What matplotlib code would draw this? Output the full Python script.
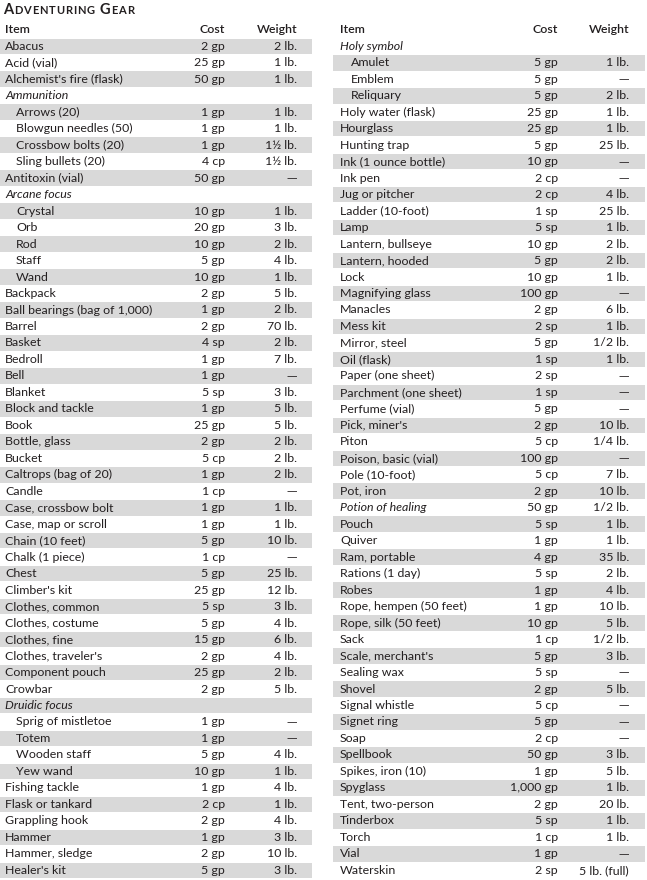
import matplotlib

matplotlib.use("Agg")
import matplotlib.pyplot as plt

# left half of the table
left_items = [
    "Abacus", "Acid (vial)", "Alchemist's fire (flask)", "Ammunition",
    "Arrows (20)", "Blowgun needles (50)", "Crossbow bolts (20)", "Sling bullets (20)",
    "Antitoxin (vial)", "Arcane focus", "Crystal", "Orb", "Rod", "Staff", "Wand",
    "Backpack", "Ball bearings (bag of 1,000)", "Barrel", "Basket", "Bedroll", "Bell",
    "Blanket", "Block and tackle", "Book", "Bottle, glass", "Bucket",
    "Caltrops (bag of 20)", "Candle", "Case, crossbow bolt", "Case, map or scroll",
    "Chain (10 feet)", "Chalk (1 piece)", "Chest", "Climber's kit", "Clothes, common",
    "Clothes, costume", "Clothes, fine", "Clothes, traveler's", "Component pouch",
    "Crowbar", "Druidic focus", "Sprig of mistletoe", "Totem", "Wooden staff",
    "Yew wand", "Fishing tackle", "Flask or tankard", "Grappling hook", "Hammer",
    "Hammer, sledge", "Healer's kit",
]
left_costs = [
    "2 gp", "25 gp", "50 gp", "", "1 gp", "1 gp", "1 gp", "4 cp", "50 gp", "",
    "10 gp", "20 gp", "10 gp", "5 gp", "10 gp", "2 gp", "1 gp", "2 gp", "4 sp", "1 gp",
    "1 gp", "5 sp", "1 gp", "25 gp", "2 gp", "5 cp", "1 gp", "1 cp", "1 gp", "1 gp",
    "5 gp", "1 cp", "5 gp", "25 gp", "5 sp", "5 gp", "15 gp", "2 gp", "25 gp", "2 gp",
    "", "1 gp", "1 gp", "5 gp", "10 gp", "1 gp", "2 cp", "2 gp", "1 gp", "2 gp", "5 gp",
]
left_weights = [
    "2 lb.", "1 lb.", "1 lb.", "", "1 lb.", "1 lb.", "1½ lb.", "1½ lb.", "—", "",
    "1 lb.", "3 lb.", "2 lb.", "4 lb.", "1 lb.", "5 lb.", "2 lb.", "70 lb.", "2 lb.",
    "7 lb.", "—", "3 lb.", "5 lb.", "5 lb.", "2 lb.", "2 lb.", "2 lb.", "—", "1 lb.",
    "1 lb.", "10 lb.", "—", "25 lb.", "12 lb.", "3 lb.", "4 lb.", "6 lb.", "4 lb.",
    "2 lb.", "5 lb.", "", "—", "—", "4 lb.", "1 lb.", "4 lb.", "1 lb.", "4 lb.",
    "3 lb.", "10 lb.", "3 lb.",
]

# right half of the table
right_items = [
    "Holy symbol", "Amulet", "Emblem", "Reliquary", "Holy water (flask)", "Hourglass",
    "Hunting trap", "Ink (1 ounce bottle)", "Ink pen", "Jug or pitcher",
    "Ladder (10-foot)", "Lamp", "Lantern, bullseye", "Lantern, hooded", "Lock",
    "Magnifying glass", "Manacles", "Mess kit", "Mirror, steel", "Oil (flask)",
    "Paper (one sheet)", "Parchment (one sheet)", "Perfume (vial)", "Pick, miner's",
    "Piton", "Poison, basic (vial)", "Pole (10-foot)", "Pot, iron", "Potion of healing",
    "Pouch", "Quiver", "Ram, portable", "Rations (1 day)", "Robes",
    "Rope, hempen (50 feet)", "Rope, silk (50 feet)", "Sack", "Scale, merchant's",
    "Sealing wax", "Shovel", "Signal whistle", "Signet ring", "Soap", "Spellbook",
    "Spikes, iron (10)", "Spyglass", "Tent, two-person", "Tinderbox", "Torch", "Vial",
    "Waterskin",
]
right_costs = [
    "", "5 gp", "5 gp", "5 gp", "25 gp", "25 gp", "5 gp", "10 gp", "2 cp", "2 cp",
    "1 sp", "5 sp", "10 gp", "5 gp", "10 gp", "100 gp", "2 gp", "2 sp", "5 gp", "1 sp",
    "2 sp", "1 sp", "5 gp", "2 gp", "5 cp", "100 gp", "5 cp", "2 gp", "50 gp", "5 sp",
    "1 gp", "4 gp", "5 sp", "1 gp", "1 gp", "10 gp", "1 cp", "5 gp", "5 sp", "2 gp",
    "5 cp", "5 gp", "2 cp", "50 gp", "1 gp", "1,000 gp", "2 gp", "5 sp", "1 cp", "1 gp",
    "2 sp",
]
right_weights = [
    "", "1 lb.", "—", "2 lb.", "1 lb.", "1 lb.", "25 lb.", "—", "—", "4 lb.",
    "25 lb.", "1 lb.", "2 lb.", "2 lb.", "1 lb.", "—", "6 lb.", "1 lb.", "1/2 lb.",
    "1 lb.", "—", "—", "—", "10 lb.", "1/4 lb.", "—", "7 lb.", "10 lb.", "1/2 lb.",
    "1 lb.", "1 lb.", "35 lb.", "2 lb.", "4 lb.", "10 lb.", "5 lb.", "1/2 lb.", "3 lb.",
    "—", "5 lb.", "—", "—", "—", "3 lb.", "5 lb.", "1 lb.", "20 lb.", "1 lb.", "1 lb.",
    "—", "5 lb. (full)",
]

italic_items = {"Ammunition", "Arcane focus", "Druidic focus", "Holy symbol", "Potion of healing"}
sub_items = {
    "Arrows (20)", "Blowgun needles (50)", "Crossbow bolts (20)", "Sling bullets (20)",
    "Crystal", "Orb", "Rod", "Staff", "Wand", "Sprig of mistletoe", "Totem",
    "Wooden staff", "Yew wand", "Amulet", "Emblem", "Reliquary",
}
headers = ["Item", "Cost", "Weight"]
title = "Adventuring Gear"

FONT = "Lato"
INK = "#231f20"
BAND = "#d9d9d9"
FS = 8.9
ROW0, ROWH = 46.3, 16.48

fig = plt.figure(figsize=(6.47, 8.80), dpi=100)
ax = fig.add_axes([0, 0, 1, 1])
ax.set_xlim(0, 647)
ax.set_ylim(880, 0)
ax.axis("off")


def cell(x, y, s, ha, **kw):
    # the book's em dash is wider and thinner than Lato's
    fam = ["DejaVu Sans"] if s == "—" else [FONT]
    fs = FS * 0.85 if s == "—" else FS
    ax.text(x, y, s, ha=ha, va="center", fontsize=fs, family=fam, color=INK, **kw)


def draw_half(items, costs, weights, x0, x1, x_item, x_cost, x_weight, shade_first):
    ys = [ROW0 + i * ROWH for i in range(len(items))]
    shaded = [y for i, y in enumerate(ys) if (i % 2 == 0) == shade_first]
    ax.barh(shaded, x1 - x0, left=x0, height=ROWH - 0.9, color=BAND, lw=0)
    for name, cost, wt, y in zip(items, costs, weights, ys):
        style = "italic" if name in italic_items else "normal"
        xi = x_item + (11 if name in sub_items else 0)
        cell(xi, y, name, "left", style=style)
        cell(x_cost, y, cost, "right")
        cell(x_weight, y, wt, "right")
    hy = ROW0 - ROWH - 0.5
    cell(x_item, hy, headers[0], "left", weight="semibold")
    cell(x_cost, hy, headers[1], "right", weight="semibold")
    cell(x_weight, hy, headers[2], "right", weight="semibold")


draw_half(left_items, left_costs, left_weights, 0, 312, 5, 225, 297, True)
draw_half(right_items, right_costs, right_weights, 333, 645, 340, 558, 629, False)

# small-caps title, drawn letter by letter with tracking
renderer = fig.canvas.get_renderer()
x = 3
for word_start, ch in [(i == 0 or title[i - 1] == " ", c) for i, c in enumerate(title)]:
    if ch == " ":
        x += 4
        continue
    size = 10.5 if word_start else 8.0
    t = ax.text(x, 13.5, ch.upper(), ha="left", va="baseline", fontsize=size,
                family=FONT, weight="bold", color=INK)
    x += t.get_window_extent(renderer).width + 0.9

fig.savefig("out.png", dpi=100)
